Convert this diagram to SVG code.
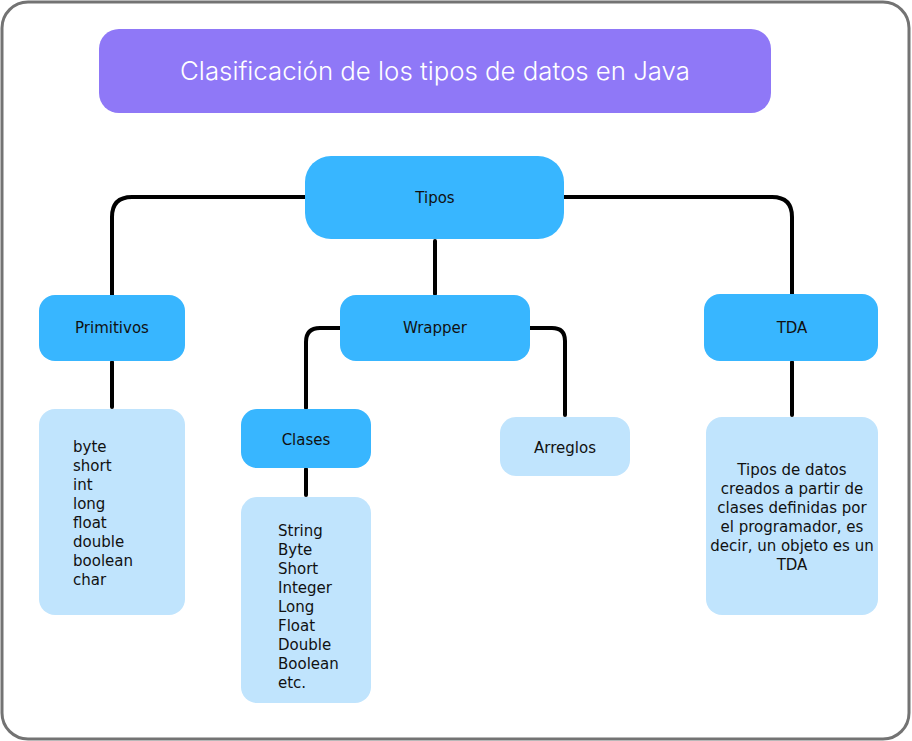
<svg xmlns="http://www.w3.org/2000/svg" width="912" height="741" viewBox="0 0 912 741">
<style>
.dark{fill:#38b6ff}
.light{fill:#c0e4fd}
.t{font-family:"DejaVu Sans","Noto Sans",sans-serif;font-size:15px;fill:#111}
.c{text-anchor:middle}
.conn{fill:none;stroke:#000;stroke-width:4;stroke-linecap:round}
</style>
<rect x="2" y="2" width="907" height="737" rx="26" fill="#fff" stroke="#737373" stroke-width="3"/>
<g id="title">
<rect x="99" y="29" width="672" height="84" rx="20" fill="#8f78f7"/>
<text x="435" y="80" text-anchor="middle" font-family="Inter,'Liberation Sans',sans-serif" font-weight="300" font-size="25.8" fill="#fff">Clasificación de los tipos de datos en Java</text>
</g>
<g id="connectors">
<path class="conn" d="M305 197 H132 Q112 197 112 217 V295"/>
<path class="conn" d="M564 197 H772 Q792 197 792 217 V294"/>
<path class="conn" d="M435 241 V294"/>
<path class="conn" d="M112 362 V407"/>
<path class="conn" d="M340 328 H320 Q306 328 306 342 V408"/>
<path class="conn" d="M530 328 H552 Q565 328 565 341 V415"/>
<path class="conn" d="M306 469 V495"/>
<path class="conn" d="M792 362 V415"/>
</g>
<g id="tipos">
<rect class="dark" x="305" y="156" width="259" height="83" rx="26"/>
<text class="t c" x="435" y="203">Tipos</text>
</g>
<g id="primitivos">
<rect class="dark" x="39" y="295" width="146" height="66" rx="16"/>
<text class="t c" x="112" y="333">Primitivos</text>
</g>
<g id="primitivos-list">
<rect class="light" x="39" y="409" width="146" height="206" rx="16"/>
<text class="t" x="73" y="452">byte<tspan x="73" dy="19">short</tspan><tspan x="73" dy="19">int</tspan><tspan x="73" dy="19">long</tspan><tspan x="73" dy="19">float</tspan><tspan x="73" dy="19">double</tspan><tspan x="73" dy="19">boolean</tspan><tspan x="73" dy="19">char</tspan></text>
</g>
<g id="wrapper">
<rect class="dark" x="340" y="295" width="190" height="66" rx="16"/>
<text class="t c" x="435" y="333">Wrapper</text>
</g>
<g id="clases">
<rect class="dark" x="241" y="409" width="130" height="59" rx="16"/>
<text class="t c" x="306" y="445">Clases</text>
</g>
<g id="clases-list">
<rect class="light" x="241" y="497" width="130" height="206" rx="16"/>
<text class="t" x="278" y="536">String<tspan x="278" dy="19">Byte</tspan><tspan x="278" dy="19">Short</tspan><tspan x="278" dy="19">Integer</tspan><tspan x="278" dy="19">Long</tspan><tspan x="278" dy="19">Float</tspan><tspan x="278" dy="19">Double</tspan><tspan x="278" dy="19">Boolean</tspan><tspan x="278" dy="19">etc.</tspan></text>
</g>
<g id="arreglos">
<rect class="light" x="500" y="417" width="130" height="59" rx="16"/>
<text class="t c" x="565" y="453">Arreglos</text>
</g>
<g id="tda">
<rect class="dark" x="704" y="294" width="174" height="67" rx="16"/>
<text class="t c" x="792" y="333">TDA</text>
</g>
<g id="tda-desc">
<rect class="light" x="706" y="417" width="172" height="198" rx="16"/>
<text class="t c" x="792" y="475">Tipos de datos<tspan x="792" dy="19">creados a partir de</tspan><tspan x="792" dy="19">clases definidas por</tspan><tspan x="792" dy="19">el programador, es</tspan><tspan x="792" dy="19">decir, un objeto es un</tspan><tspan x="792" dy="19">TDA</tspan></text>
</g>
</svg>
